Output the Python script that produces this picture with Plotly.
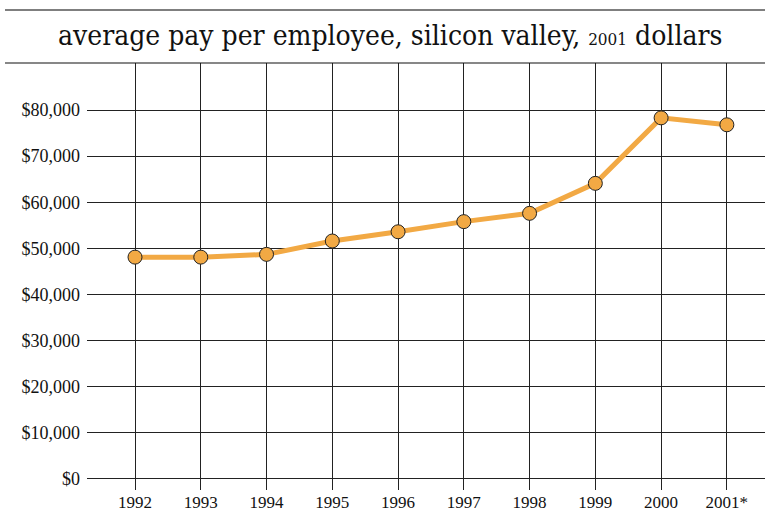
import plotly.graph_objects as go

years = ["1992", "1993", "1994", "1995", "1996", "1997", "1998", "1999", "2000", "2001*"]
pay = [48100, 48100, 48700, 51600, 53600, 55800, 57600, 64100, 78300, 76800]
y_ticks = [0, 10000, 20000, 30000, 40000, 50000, 60000, 70000, 80000]
y_labels = ["$0", "$10,000", "$20,000", "$30,000", "$40,000", "$50,000", "$60,000", "$70,000", "$80,000"]

W, H = 765, 512
L, R, T, B = 87, 0, 63, 22

fig = go.Figure(go.Scatter(
    x=list(range(len(years))), y=pay, mode="lines+markers",
    line=dict(color="#F2A944", width=5),
    marker=dict(size=14, color="#F2A944", line=dict(color="#222", width=1)),
    cliponaxis=False, hoverinfo="skip",
))

pw = W - L - R
ph = H - T - B
fig.update_layout(
    width=W, height=H, margin=dict(l=L, r=R, t=T, b=B, autoexpand=False),
    paper_bgcolor="white", plot_bgcolor="white", showlegend=False,
    font=dict(family="Liberation Serif", color="#111", size=18),
    xaxis=dict(tickmode="array", tickvals=list(range(len(years))), ticktext=years,
               range=[-0.73, 9.58], showgrid=True, gridcolor="#222", gridwidth=1,
               zeroline=False, showline=False, ticks="", ticklabelstandoff=0,
               automargin=False, tickfont=dict(size=17)),
    yaxis=dict(tickmode="array", tickvals=y_ticks, ticktext=y_labels,
               range=[-2400, 90200], showgrid=True, gridcolor="#222", gridwidth=1,
               zeroline=False, showline=False, ticks="", ticklabelstandoff=6,
               automargin=False, tickfont=dict(size=18)),
    shapes=[
        dict(type="line", xref="paper", yref="paper",
             x0=(5 - L) / pw, x1=1, y0=(H - B - 10) / ph, y1=(H - B - 10) / ph,
             line=dict(color="#555", width=1.5)),
        dict(type="line", xref="paper", yref="paper",
             x0=(5 - L) / pw, x1=1, y0=1, y1=1,
             line=dict(color="#111", width=1.2)),
    ],
    annotations=[dict(
        text="average pay per employee, silicon valley, <span style='font-size:17px'>2001</span> dollars",
        xref="paper", yref="paper", x=(390 - L) / pw, y=(H - B - 36) / ph,
        xanchor="center", yanchor="middle", showarrow=False,
        font=dict(family="DejaVu Serif Condensed", size=28, color="#111"),
    )],
)

fig.write_html("out.html", config={"displayModeBar": False},
               post_script="document.body.style.margin='0';document.body.style.overflow='hidden';")
